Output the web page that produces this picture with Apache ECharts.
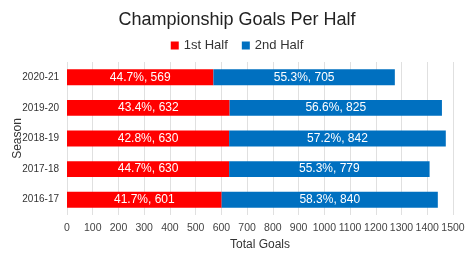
<!DOCTYPE html>
<html><head><meta charset="utf-8">
<script src="https://cdn.jsdelivr.net/npm/echarts@6/dist/echarts.min.js"></script>
<style>html,body{margin:0;padding:0;background:#fff}#c{width:474px;height:258px}</style>
</head><body><div id="c"></div>
<script>
var seasons = ['2016-17','2017-18','2018-19','2019-20','2020-21'];
var firstHalf = [601,630,630,632,569];
var secondHalf = [840,779,842,825,705];
var firstPct = ['41.7%','44.7%','42.8%','43.4%','44.7%'];
var secondPct = ['58.3%','55.3%','57.2%','56.6%','55.3%'];
var xTicks = [0,100,200,300,400,500,600,700,800,900,1000,1100,1200,1300,1400,1500];

var chart = echarts.init(document.getElementById('c'));
var font = 'Liberation Sans, Arial, sans-serif';
chart.setOption({
  animation:false,
  textStyle:{fontFamily:font},
  title:{text:'Championship Goals Per Half',left:'center',top:6,textStyle:{fontSize:18,fontWeight:'normal',color:'#222',fontFamily:font}},
  legend:{top:34,left:'center',itemWidth:8,itemHeight:8,icon:'rect',itemGap:14,textStyle:{fontSize:13,color:'#333',fontFamily:font},data:['1st Half','2nd Half']},
  grid:{left:67,right:21,top:62,bottom:43,containLabel:false,outerBoundsMode:'none'},
  xAxis:{type:'value',min:xTicks[0],max:xTicks[xTicks.length-1],interval:xTicks[1]-xTicks[0],name:'Total Goals',nameLocation:'middle',nameGap:24,nameMoveOverlap:false,
    nameTextStyle:{fontSize:12,color:'#333',fontFamily:font},
    axisLine:{show:false},axisTick:{show:false},
    axisLabel:{fontSize:10.5,color:'#444',margin:8,fontFamily:font,formatter:function(v){return String(v);}},
    splitLine:{lineStyle:{color:'#e0e0e0'}}},
  yAxis:{type:'category',data:seasons,name:'Season',nameLocation:'middle',nameGap:43,nameMoveOverlap:false,
    nameTextStyle:{fontSize:12,color:'#333',fontFamily:font},
    axisLine:{show:false},axisTick:{show:false},
    axisLabel:{fontSize:10,color:'#333',margin:8,fontFamily:font}},
  series:[
    {name:'1st Half',type:'bar',stack:'t',barWidth:'52%',data:firstHalf,itemStyle:{color:'#ff0000'},
     label:{show:true,position:'inside',color:'#fff',fontSize:12,fontFamily:font,formatter:function(p){return firstPct[p.dataIndex]+', '+p.value;}}},
    {name:'2nd Half',type:'bar',stack:'t',barWidth:'52%',data:secondHalf,itemStyle:{color:'#0070c0'},
     label:{show:true,position:'inside',color:'#fff',fontSize:12,fontFamily:font,formatter:function(p){return secondPct[p.dataIndex]+', '+p.value;}}}
  ]
});
</script></body></html>
